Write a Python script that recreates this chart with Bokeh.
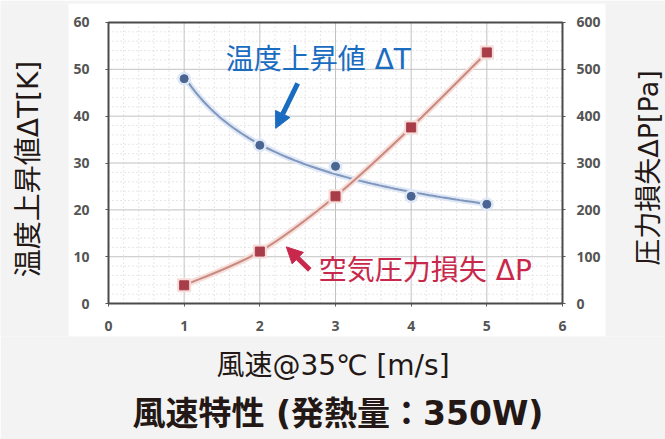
import numpy as np
from bokeh.plotting import figure
from bokeh.models import (Range1d, LinearAxis, Arrow, NormalHead, Label, Title, FixedTicker)
from bokeh.embed import file_html
from bokeh.resources import INLINE

# ---- data ----
wind_speed = [1, 2, 3, 4, 5]                    # m/s
delta_t = [48.0, 33.8, 29.3, 22.9, 21.2]        # K   (left axis)
delta_p = [39, 111, 229, 376, 536]              # Pa  (right axis)
x_ticks = [0, 1, 2, 3, 4, 5, 6]
t_ticks = [0, 10, 20, 30, 40, 50, 60]
p_ticks = [0, 100, 200, 300, 400, 500, 600]

x_title = "風速@35℃ [m/s]"
t_title = "温度上昇値ΔT[K]"
p_title = "圧力損失ΔP[Pa]"
main_title = "風速特性 (発熱量：350W)"
t_note = "温度上昇値 ΔT"
p_note = "空気圧力損失 ΔP"

# ---- layout / style ----
W, H = 665, 439
CARD_L, CARD_R, CARD_T, CARD_B = 68, 605, 3, 337      # white chart card
X0_PX, XN_PX = 108, 562                               # pixel of first / last x tick
Y0_PX, YN_PX = 304, 22                                # pixel of first / last y tick
LT_X, LT_Y = 28, 169                                  # centre of left-hand title
RT_X, RT_Y = 648, 168                                 # centre of right-hand title
MAIN_LEFT = 132                                       # left edge of the bottom title
BG = "#f3f3f3"
INK = "#231815"
TICK = "#555555"
BLUE = "#1a6cc0"
RED = "#c8284c"
MIX = "DejaVu Sans, Noto Sans CJK JP"

ux = (XN_PX - X0_PX) / (x_ticks[-1] - x_ticks[0])
uy = (Y0_PX - YN_PX) / (t_ticks[-1] - t_ticks[0])
def dx(px_):
    return x_ticks[0] + (px_ - X0_PX) / ux
def dy(py_):
    return t_ticks[0] + (Y0_PX - py_) / uy

x_rng = (dx(0), dx(W))
y_rng = (dy(CARD_B), dy(CARD_T))
k = p_ticks[-1] / t_ticks[-1]

p = figure(width=W, height=H, x_range=Range1d(*x_rng), y_range=Range1d(*y_rng),
           output_backend="svg", toolbar_location=None,
           min_border_left=0, min_border_right=0,
           min_border_top=CARD_T, min_border_bottom=H - CARD_B)
p.extra_y_ranges = {"dp": Range1d(y_rng[0] * k, y_rng[1] * k)}
p.border_fill_color = BG
p.background_fill_color = BG
p.outline_line_color = None
p.xgrid.visible = False
p.ygrid.visible = False

# white chart card
p.quad(left=dx(CARD_L), right=dx(CARD_R), bottom=y_rng[0], top=y_rng[1],
       fill_color="white", line_color=None)

# ---- grid (from tick lists) and plot box ----
minor_x = [v for v in np.arange(x_ticks[0], x_ticks[-1], 0.2) if abs(v - round(v)) > 1e-6]
minor_y = [v for v in np.arange(t_ticks[0], t_ticks[-1], 2) if v % 10 != 0]
p.segment(x0=minor_x, y0=t_ticks[0], x1=minor_x, y1=t_ticks[-1],
          line_color="#cfcfcf", line_width=1, line_dash="1 3")
p.segment(x0=x_ticks[0], y0=minor_y, x1=x_ticks[-1], y1=minor_y,
          line_color="#cfcfcf", line_width=1, line_dash="1 3")
p.segment(x0=x_ticks[1:-1], y0=t_ticks[0], x1=x_ticks[1:-1], y1=t_ticks[-1],
          line_color="#c2c2c2", line_width=1)
p.segment(x0=x_ticks[0], y0=t_ticks[1:-1], x1=x_ticks[-1], y1=t_ticks[1:-1],
          line_color="#c2c2c2", line_width=1)
p.quad(left=x_ticks[0], right=x_ticks[-1], bottom=t_ticks[0], top=t_ticks[-1],
       fill_color=None, line_color="#4a4a4a", line_width=2)

# ---- tick axes, fixed on the plot box ----
def style_axis(ax):
    ax.axis_line_color = None
    ax.major_tick_line_color = TICK
    ax.major_tick_out = 3
    ax.major_tick_in = 0
    ax.minor_tick_out = 0
    ax.minor_tick_in = 0
    ax.major_label_text_font = "Open Sans"
    ax.major_label_text_font_style = "bold"
    ax.major_label_text_font_size = "14px"
    ax.major_label_text_color = TICK

xa = p.xaxis[0]
xa.ticker = FixedTicker(ticks=x_ticks, minor_ticks=[])
xa.fixed_location = t_ticks[0]
xa.bounds = (x_ticks[0], x_ticks[-1])
style_axis(xa)
xa.major_label_standoff = 14

ya = p.yaxis[0]
ya.ticker = FixedTicker(ticks=t_ticks, minor_ticks=[])
ya.fixed_location = x_ticks[0]
ya.bounds = (t_ticks[0], t_ticks[-1])
style_axis(ya)
ya.major_label_standoff = 16

ra = LinearAxis(y_range_name="dp", ticker=FixedTicker(ticks=p_ticks, minor_ticks=[]),
                fixed_location=x_ticks[-1], bounds=(p_ticks[0], p_ticks[-1]))
style_axis(ra)
ra.major_label_standoff = 11
p.add_layout(ra, "right")

# ---- x title: label-only axis in the bottom panel ----
xt = LinearAxis(ticker=FixedTicker(ticks=[], minor_ticks=[]))
xt.axis_line_color = None
xt.major_tick_line_color = None
xt.minor_tick_line_color = None
xt.major_tick_out = 0
xt.minor_tick_out = 0
xt.major_label_text_font_size = "0px"
xt.major_label_standoff = 0
xt.axis_label = x_title
xt.axis_label_standoff = 12
xt.axis_label_text_font = MIX
xt.axis_label_text_font_style = "normal"
xt.axis_label_text_font_size = "28px"
xt.axis_label_text_color = INK
p.add_layout(xt, "below")

p.add_layout(Title(text=main_title, align="left", offset=MAIN_LEFT,
                   text_font=MIX, text_font_style="bold",
                   text_font_size="33px", text_color=INK, standoff=14), "below")

# side titles, both reading bottom to top, in the grey margins
for tx, ty, txt, fs in ((LT_X, LT_Y, t_title, "28px"), (RT_X, RT_Y, p_title, "27px")):
    p.add_layout(Label(x=dx(tx), y=dy(ty), text=txt, angle=90, angle_units="deg",
                       text_align="center", text_baseline="middle", text_font=MIX,
                       text_font_size=fs, text_color=INK))

# ---- ΔT : power-law trend line fitted to the points ----
wx = np.array(wind_speed, dtype=float)
b, lna = np.polyfit(np.log(wx), np.log(np.array(delta_t)), 1)
xs = np.linspace(wx.min(), wx.max(), 80)
ys = np.exp(lna) * xs ** b
p.line(xs, ys, line_color="#dde7f5", line_width=6)
p.line(xs, ys, line_color="#8196bd", line_width=2)
p.scatter(wind_speed, delta_t, marker="circle", size=13, color="#dfe8f6")
p.scatter(wind_speed, delta_t, marker="circle", size=8, color="#4b6592")

# ---- ΔP : smoothed line through the points (Catmull-Rom as Bezier) ----
px = np.array(wind_speed, dtype=float)
py = np.array(delta_p, dtype=float)
ex = np.concatenate([[px[0]], px, [px[-1]]])
ey = np.concatenate([[py[0]], py, [py[-1]]])
n = len(px) - 1
cx0 = [ex[i + 1] + (ex[i + 2] - ex[i]) / 6 for i in range(n)]
cy0 = [ey[i + 1] + (ey[i + 2] - ey[i]) / 6 for i in range(n)]
cx1 = [ex[i + 2] - (ex[i + 3] - ex[i + 1]) / 6 for i in range(n)]
cy1 = [ey[i + 2] - (ey[i + 3] - ey[i + 1]) / 6 for i in range(n)]
for lc, lw in (("#f6dfdb", 6), ("#c98a80", 2)):
    p.bezier(x0=px[:-1], y0=py[:-1], x1=px[1:], y1=py[1:],
             cx0=cx0, cy0=cy0, cx1=cx1, cy1=cy1,
             line_color=lc, line_width=lw, y_range_name="dp")
p.scatter(wind_speed, delta_p, marker="square", size=13, color="#f6dcd8", y_range_name="dp")
p.scatter(wind_speed, delta_p, marker="square", size=9, color="#a83c48", y_range_name="dp")

# ---- annotations ----
p.add_layout(Label(x=1.55, y=52.1, text=t_note, text_font=MIX, text_font_size="28px",
                   text_color=BLUE, text_baseline="middle", text_align="left"))
p.add_layout(Arrow(end=NormalHead(size=16, fill_color=BLUE, line_color=BLUE),
                   x_start=2.50, y_start=47.0, x_end=2.21, y_end=37.4,
                   line_color=BLUE, line_width=5))
p.add_layout(Label(x=2.78, y=7.0, text=p_note, text_font=MIX, text_font_size="28px",
                   text_color=RED, text_baseline="middle", text_align="left"))
p.add_layout(Arrow(end=NormalHead(size=16, fill_color=RED, line_color=RED),
                   x_start=2.66, y_start=7.2, x_end=2.35, y_end=12.1,
                   line_color=RED, line_width=5))

open("out.html", "w").write(file_html(p, INLINE))
